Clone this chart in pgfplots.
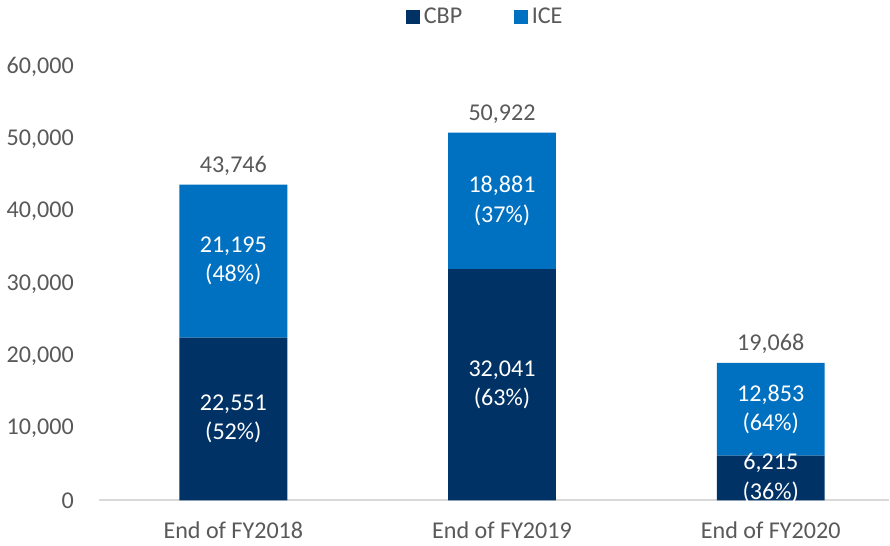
\documentclass[border=0pt]{standalone}
\usepackage{pgfplots}
\pgfplotsset{compat=1.18}
\usepackage{pgfplotstable}
\usepackage{fontspec}
\setmainfont{Carlito}
\definecolor{cbp}{RGB}{0,50,101}
\definecolor{ice}{RGB}{0,112,192}
\definecolor{txt}{RGB}{89,89,89}
\definecolor{axisgray}{RGB}{217,217,217}

\pgfplotstableread{
x cbp cbppct ice icepct total
0 22551 52 21195 48 43746
1 32041 63 18881 37 50922
2 6215 36 12853 64 19068
}\datatable

\newcommand{\lblfont}{\fontsize{12}{14.5}\selectfont}

\pgfplotsset{
  base/.style={
    scale only axis, width=392bp, height=215bp,
    ymin=0, ymax=60000, xmin=-0.5, xmax=2.44,
    /pgf/number format/1000 sep={,},
    /pgf/number format/assume math mode=true},
  seglabel/.style={only marks, mark=none,
    point meta=explicit,
    visualization depends on={\thisrow{#1pct} \as \pct},
    nodes near coords={\pgfmathprintnumber{\pgfplotspointmeta}\\(\pgfmathprintnumber{\pct}\%)},
    every node near coord/.style={align=center, anchor=center, text=white, font=\lblfont}},
}

\begin{document}
\begin{tikzpicture}
\begin{axis}[base,
  ybar stacked, bar width=53.5bp,
  xtick={0,1,2}, xticklabels={End of FY2018,End of FY2019,End of FY2020},
  ytick={0,10000,...,60000},
  tick style={draw=none}, major tick length=0pt,
  axis lines*=left,
  x axis line style={draw=axisgray, line width=1bp, -},
  y axis line style={draw=none},
  scaled y ticks=false,
  tick label style={font=\lblfont, text=txt},
  yticklabel style={xshift=-9bp},
  xticklabel style={yshift=-7bp},
  legend style={at={(0.49,1.115)}, anchor=center, draw=none, fill=none,
    font=\lblfont, text=txt, legend columns=2,
    /tikz/every even column/.append style={column sep=23.5bp}},
  legend image code/.code={\fill[#1] (0bp,-3.5bp) rectangle (7bp,3.5bp);},
]
\addplot[fill=cbp, draw=none] table[x=x, y=cbp] {\datatable};
\addplot[fill=ice, draw=none] table[x=x, y=ice] {\datatable};
\legend{CBP,ICE}
\end{axis}
% labels: segment values in the middle of each segment, totals on top
\begin{axis}[base, hide axis]
\addplot[seglabel=cbp] table[x=x, y expr={\thisrow{cbp}/2}, meta=cbp] {\datatable};
\addplot[seglabel=ice] table[x=x, y expr={\thisrow{cbp}+\thisrow{ice}/2}, meta=ice] {\datatable};
\addplot[only marks, mark=none,
  point meta=explicit,
  nodes near coords,
  every node near coord/.style={anchor=south, text=txt, font=\lblfont, yshift=1bp}
] table[x=x, y=total, meta=total] {\datatable};
\end{axis}
\end{tikzpicture}
\end{document}
